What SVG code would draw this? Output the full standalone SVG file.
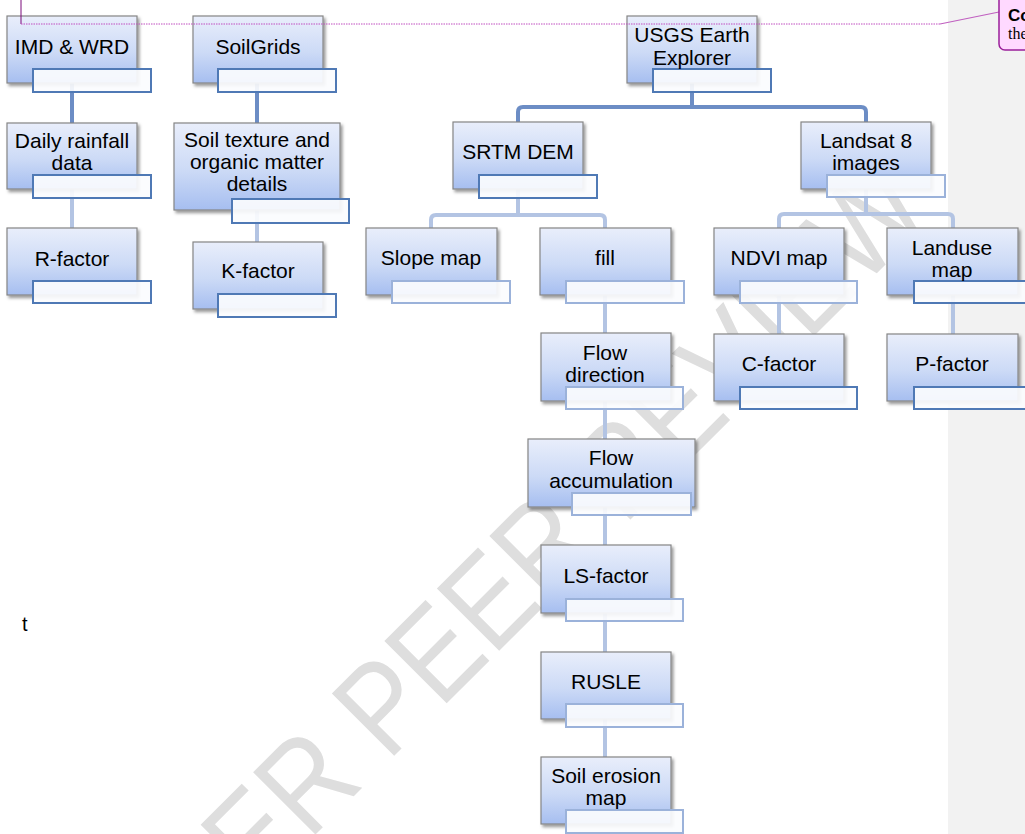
<svg xmlns="http://www.w3.org/2000/svg" width="1025" height="834" viewBox="0 0 1025 834">
<defs>
<linearGradient id="gBox" x1="0" y1="0" x2="0" y2="1">
<stop offset="0" stop-color="#e9eefb"/>
<stop offset="0.55" stop-color="#ccdaf6"/>
<stop offset="1" stop-color="#a6bef0"/>
</linearGradient>
<filter id="shadow" x="-10%" y="-10%" width="130%" height="140%">
<feDropShadow dx="2" dy="2.5" stdDeviation="1.5" flood-color="#000" flood-opacity="0.4"/>
</filter>
<style>
.box{fill:url(#gBox);stroke:#858585;stroke-width:1.2;filter:url(#shadow)}
.tag{fill:#fbfcfe;fill-opacity:0.92;stroke:#4f79b5;stroke-width:2}
.tagl{fill:#fbfcfe;fill-opacity:0.92;stroke:#9bb2da;stroke-width:2}
.lbl{font-family:"Liberation Sans",Arial,sans-serif;font-size:21px;fill:#000;text-anchor:middle}
.cd{fill:none;stroke:#6c8dc5;stroke-width:4}
.cl{fill:none;stroke:#b3c4e3;stroke-width:4}
.wm{font-family:"Liberation Sans",Arial,sans-serif;font-size:128px;fill:#dedede}
</style>
</defs>
<rect x="0" y="0" width="1025" height="834" fill="#ffffff"/>
<rect x="948" y="0" width="77" height="834" fill="#f2f2f2"/>
<g id="watermark" transform="translate(86,1064) rotate(-45)">
<text class="wm" x="0" y="0" transform="scale(0.87,1)">UNDER PEER REVIEW</text>
</g>
<g id="connectors">
<path class="cd" d="M72,83 V123"/>
<path class="cl" d="M72,189 V228"/>
<path class="cd" d="M257,83 V123"/>
<path class="cl" d="M257,210 V242"/>
<path class="cd" d="M692,83 V107"/>
<path class="cd" d="M518,122 V112 Q518,107 523,107 H861 Q866,107 866,112 V122"/>
<path class="cl" d="M518,189 V215"/>
<path class="cl" d="M431,228 V220 Q431,215 436,215 H600 Q605,215 605,220 V228"/>
<path class="cl" d="M866,189 V214"/>
<path class="cl" d="M779,228 V219 Q779,214 784,214 H948 Q953,214 953,219 V228"/>
<path class="cl" d="M779,295 V334"/>
<path class="cl" d="M953,295 V334"/>
<path class="cl" d="M605,295 V333"/>
<path class="cl" d="M605,401 V439"/>
<path class="cl" d="M605,507 V545"/>
<path class="cl" d="M605,613 V652"/>
<path class="cl" d="M605,719 V757"/>
</g>
<g id="imd">
<rect class="box" x="7" y="16" width="130" height="67"/>
<rect class="tag" x="33" y="69" width="118" height="23"/>
<text class="lbl" x="72" y="54">IMD &amp; WRD</text>
</g>
<g id="daily">
<rect class="box" x="7" y="123" width="130" height="66"/>
<rect class="tag" x="33" y="175" width="118" height="23"/>
<text class="lbl" x="72" y="148">Daily rainfall</text>
<text class="lbl" x="72" y="170">data</text>
</g>
<g id="rfactor">
<rect class="box" x="7" y="228" width="130" height="67"/>
<rect class="tag" x="33" y="281" width="118" height="22"/>
<text class="lbl" x="72" y="266">R-factor</text>
</g>
<g id="soilgrids">
<rect class="box" x="193" y="16" width="130" height="67"/>
<rect class="tag" x="218" y="69" width="118" height="23"/>
<text class="lbl" x="258" y="54">SoilGrids</text>
</g>
<g id="soiltexture">
<rect class="box" x="174" y="123" width="166" height="87"/>
<rect class="tag" x="232" y="199" width="117" height="24"/>
<text class="lbl" x="257" y="147">Soil texture and</text>
<text class="lbl" x="257" y="169">organic matter</text>
<text class="lbl" x="257" y="191">details</text>
</g>
<g id="kfactor">
<rect class="box" x="193" y="242" width="130" height="67"/>
<rect class="tag" x="218" y="294" width="118" height="23"/>
<text class="lbl" x="258" y="278">K-factor</text>
</g>
<g id="usgs">
<rect class="box" x="627" y="16" width="130" height="67"/>
<rect class="tag" x="653" y="69" width="118" height="23"/>
<text class="lbl" x="692" y="42">USGS Earth</text>
<text class="lbl" x="692" y="65">Explorer</text>
</g>
<g id="srtm">
<rect class="box" x="453" y="122" width="130" height="67"/>
<rect class="tag" x="479" y="175" width="118" height="23"/>
<text class="lbl" x="518" y="159">SRTM DEM</text>
</g>
<g id="landsat">
<rect class="box" x="801" y="122" width="130" height="67"/>
<rect class="tagl" x="827" y="175" width="118" height="22"/>
<text class="lbl" x="866" y="148">Landsat 8</text>
<text class="lbl" x="866" y="170">images</text>
</g>
<g id="slope">
<rect class="box" x="366" y="228" width="131" height="67"/>
<rect class="tagl" x="392" y="281" width="118" height="22"/>
<text class="lbl" x="431" y="265">Slope map</text>
</g>
<g id="fill">
<rect class="box" x="540" y="228" width="131" height="67"/>
<rect class="tagl" x="566" y="281" width="118" height="22"/>
<text class="lbl" x="605" y="265">fill</text>
</g>
<g id="ndvi">
<rect class="box" x="714" y="228" width="130" height="67"/>
<rect class="tagl" x="740" y="281" width="117" height="22"/>
<text class="lbl" x="779" y="265">NDVI map</text>
</g>
<g id="landuse">
<rect class="box" x="887" y="228" width="131" height="67"/>
<rect class="tag" x="914" y="281" width="118" height="22"/>
<text class="lbl" x="952" y="255">Landuse</text>
<text class="lbl" x="952" y="277">map</text>
</g>
<g id="cfactor">
<rect class="box" x="714" y="334" width="130" height="67"/>
<rect class="tag" x="740" y="387" width="117" height="22"/>
<text class="lbl" x="779" y="371">C-factor</text>
</g>
<g id="pfactor">
<rect class="box" x="887" y="334" width="131" height="67"/>
<rect class="tag" x="914" y="387" width="118" height="22"/>
<text class="lbl" x="952" y="371">P-factor</text>
</g>
<g id="flowdir">
<rect class="box" x="541" y="333" width="130" height="68"/>
<rect class="tagl" x="566" y="387" width="117" height="22"/>
<text class="lbl" x="605" y="360">Flow</text>
<text class="lbl" x="605" y="382">direction</text>
</g>
<g id="flowacc">
<rect class="box" x="528" y="439" width="167" height="68"/>
<rect class="tagl" x="572" y="493" width="119" height="22"/>
<text class="lbl" x="611" y="465">Flow</text>
<text class="lbl" x="611" y="488">accumulation</text>
</g>
<g id="lsfactor">
<rect class="box" x="541" y="545" width="130" height="68"/>
<rect class="tagl" x="566" y="599" width="117" height="22"/>
<text class="lbl" x="606" y="583">LS-factor</text>
</g>
<g id="rusle">
<rect class="box" x="541" y="652" width="130" height="67"/>
<rect class="tagl" x="566" y="704" width="117" height="23"/>
<text class="lbl" x="606" y="689">RUSLE</text>
</g>
<g id="erosion">
<rect class="box" x="541" y="757" width="130" height="67"/>
<rect class="tagl" x="566" y="810" width="117" height="23"/>
<text class="lbl" x="606" y="783">Soil erosion</text>
<text class="lbl" x="606" y="805">map</text>
</g>
<text x="22" y="631" font-family="'Liberation Sans',Arial,sans-serif" font-size="20" fill="#000">t</text>
<g id="comment-link">
<path d="M21,0 V24" fill="none" stroke="#7a0a7a" stroke-width="1"/>
<path d="M21,24 H940" fill="none" stroke="#c04cc0" stroke-width="1" stroke-dasharray="1.5,1"/>
<path d="M940,24 L999,12" fill="none" stroke="#c060c0" stroke-width="1.2"/>
</g>
<g id="comment">
<rect x="999" y="-6" width="40" height="56" rx="6" fill="#ffd9ff" stroke="#9b1f9b" stroke-width="1.5"/>
<text x="1008" y="21" font-family="'Liberation Sans',Arial,sans-serif" font-size="17" font-weight="bold" fill="#000">Co</text>
<text x="1008" y="39" font-family="'Liberation Serif','Times New Roman',serif" font-size="16" fill="#000">the</text>
</g>
</svg>
